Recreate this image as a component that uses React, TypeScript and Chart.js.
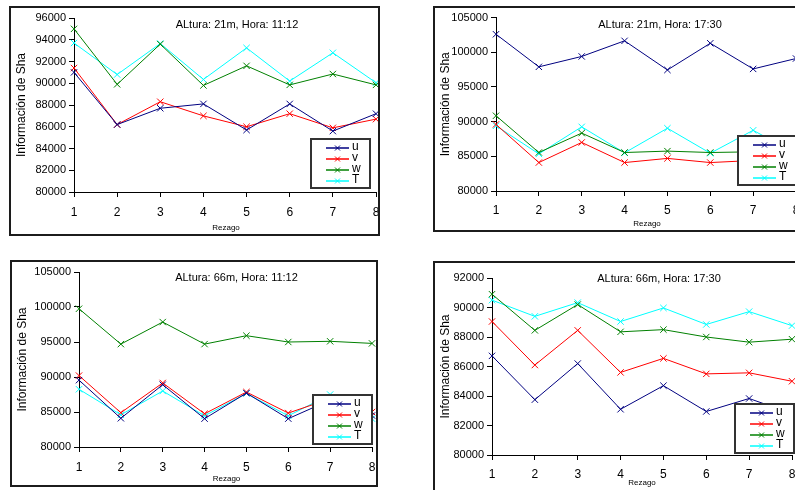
import React, { useEffect, useRef } from "react";
import { Chart, registerables } from "chart.js";

Chart.register(...registerables);

const FONT = "'Liberation Sans', Arial, Helvetica, sans-serif";

// Lags on the horizontal axis
const lags = ["1", "2", "3", "4", "5", "6", "7", "8"];
const seriesNames = ["u", "v", "w", "T"];
const seriesColors = ["#000080", "#FF0000", "#008000", "#00FFFF"];

// Altura 21 m, 11:12
const u21a = [91000, 86200, 87700, 88100, 85700, 88100, 85600, 87200];
const v21a = [91400, 86200, 88300, 87000, 86000, 87200, 85900, 86700];
const w21a = [95000, 89900, 93600, 89800, 91600, 89850, 90850, 89850];
const t21a = [93700, 90800, 93650, 90350, 93250, 90200, 92800, 90050];
const yTicks21a = [80000, 82000, 84000, 86000, 88000, 90000, 92000, 94000, 96000];

// Altura 21 m, 17:30
const u21b = [102600, 97900, 99400, 101650, 97450, 101300, 97600, 99100];
const v21b = [89600, 84100, 87000, 84100, 84700, 84100, 84400, 84300];
const w21b = [90850, 85550, 88350, 85550, 85750, 85550, 85650, 85500];
const t21b = [89400, 85350, 89250, 85500, 89050, 85450, 88750, 85400];
const yTicks21b = [80000, 85000, 90000, 95000, 100000, 105000];

// Altura 66 m, 11:12
const u66a = [89550, 84100, 88900, 84050, 87700, 84050, 86700, 84500];
const v66a = [90200, 84900, 89150, 84750, 87850, 84850, 86900, 85000];
const w66a = [99750, 94700, 97850, 94700, 95900, 95000, 95100, 94800];
const t66a = [88250, 84600, 88000, 84450, 87650, 84450, 87500, 84050];
const yTicks66a = [80000, 85000, 90000, 95000, 100000, 105000];

// Altura 66 m, 17:30
const u66b = [86720, 83750, 86200, 83100, 84700, 82950, 83830, 82800];
const v66b = [89050, 86100, 88450, 85600, 86550, 85500, 85570, 85000];
const w66b = [90900, 88450, 90200, 88350, 88500, 88000, 87650, 87850];
const t66b = [90500, 89400, 90330, 89050, 89970, 88850, 89720, 88770];
const yTicks66b = [80000, 82000, 84000, 86000, 88000, 90000, 92000];

type PanelSpec = {
  title: string;
  box: [number, number, number, number]; // frame: left, top, right, bottom
  area: [number, number, number, number]; // plot area: left, top, right, bottom
  yTicks: number[];
  series: number[][];
  titleDx: number;
  titleDy: number;
  xTitleDx: number;
  xTitleDy: number;
  legendDx: number;
  legendDy: number;
  tickPad: number;
};

const panels: PanelSpec[] = [
  {
    title: "ALtura: 21m, Hora: 11:12",
    box: [9, 6, 380, 236],
    area: [74, 18, 376, 192],
    yTicks: yTicks21a,
    series: [u21a, v21a, w21a, t21a],
    titleDx: 12, titleDy: 7, xTitleDx: 1, xTitleDy: 36,
    legendDx: -6, legendDy: -4, tickPad: 8,
  },
  {
    title: "ALtura: 21m, Hora: 17:30",
    box: [433, 6, 830, 232],
    area: [496, 17, 796, 191],
    yTicks: yTicks21b,
    series: [u21b, v21b, w21b, t21b],
    titleDx: 14, titleDy: 7, xTitleDx: 1, xTitleDy: 33,
    legendDx: 1, legendDy: -6, tickPad: 7,
  },
  {
    title: "ALtura: 66m, Hora: 11:12",
    box: [10, 260, 378, 487],
    area: [79, 272, 372, 447],
    yTicks: yTicks66a,
    series: [u66a, v66a, w66a, t66a],
    titleDx: 11, titleDy: 6, xTitleDx: 1, xTitleDy: 32,
    legendDx: 0, legendDy: -3, tickPad: 8,
  },
  {
    title: "ALtura: 66m, Hora: 17:30",
    box: [433, 261, 830, 510],
    area: [492, 278, 792, 455],
    yTicks: yTicks66b,
    series: [u66b, v66b, w66b, t66b],
    titleDx: 17, titleDy: 1, xTitleDx: 0, xTitleDy: 28,
    legendDx: 2, legendDy: -2, tickPad: 7,
  },
];

const BORDER = 2;
const RIGHT_PAD = 12;

function drawX(ctx: CanvasRenderingContext2D, x: number, y: number, r: number) {
  ctx.beginPath();
  ctx.moveTo(x - r, y - r);
  ctx.lineTo(x + r, y + r);
  ctx.moveTo(x - r, y + r);
  ctx.lineTo(x + r, y - r);
  ctx.stroke();
}

// Draws the in-plot caption, the small x-axis caption and the boxed legend
const decorPlugin = {
  id: "panelDecor",
  afterDraw(chart: any) {
    const opts = chart.options.plugins.panelDecor;
    const { ctx, chartArea: ca } = chart;
    const cx = (ca.left + ca.right) / 2;
    ctx.save();
    ctx.fillStyle = "#000";
    ctx.textBaseline = "middle";
    ctx.textAlign = "center";
    ctx.font = `11px ${FONT}`;
    ctx.fillText(opts.title, cx + opts.titleDx, ca.top + opts.titleDy);
    ctx.font = `8px ${FONT}`;
    ctx.fillText("Rezago", cx + opts.xTitleDx, ca.bottom + opts.xTitleDy);

    const w = 59;
    const h = 49;
    const right = Math.round(ca.right + opts.legendDx);
    const bottom = Math.round(ca.bottom + opts.legendDy);
    const left = right - w;
    const top = bottom - h;
    ctx.fillStyle = "#fff";
    ctx.fillRect(left, top, w, h);
    ctx.strokeStyle = "#333";
    ctx.lineWidth = 2;
    ctx.strokeRect(left, top, w, h);

    ctx.textAlign = "left";
    ctx.font = `12px ${FONT}`;
    chart.data.datasets.forEach((ds: any, i: number) => {
      const y = Math.round(top + 8.5 + i * 11.2);
      ctx.strokeStyle = ds.borderColor;
      ctx.lineWidth = 1.5;
      ctx.beginPath();
      ctx.moveTo(left + 15, y);
      ctx.lineTo(left + 38, y);
      ctx.stroke();
      ctx.lineWidth = 1;
      drawX(ctx, left + 26.5, y, 2.5);
      ctx.fillStyle = "#000";
      ctx.fillText(ds.label, left + 41, y - 1);
    });
    ctx.restore();
  },
};

function Panel({ spec }: { spec: PanelSpec }) {
  const ref = useRef<HTMLCanvasElement>(null);
  const [bl, bt, br, bb] = spec.box;
  const [al, at, ar, ab] = spec.area;
  const cx0 = bl + BORDER;
  const cy0 = bt + BORDER;
  const cw = ar - cx0 + RIGHT_PAD;
  const ch = bb - BORDER - cy0;

  useEffect(() => {
    if (!ref.current) return;
    const yMin = spec.yTicks[0];
    const yMax = spec.yTicks[spec.yTicks.length - 1];
    const step = spec.yTicks[1] - spec.yTicks[0];
    const chart = new Chart(ref.current, {
      type: "line",
      data: {
        labels: lags,
        datasets: spec.series.map((vals, i) => ({
          label: seriesNames[i],
          data: vals,
          borderColor: seriesColors[i],
          backgroundColor: seriesColors[i],
          borderWidth: 1,
          pointStyle: "crossRot",
          pointRadius: 4.5,
          pointBorderWidth: 1,
          pointBorderColor: seriesColors[i],
          tension: 0,
          fill: false,
          clip: false,
        })),
      },
      options: {
        responsive: false,
        animation: false,
        devicePixelRatio: 1,
        events: [],
        layout: {
          padding: { left: 0, top: at - cy0, right: RIGHT_PAD, bottom: 0 },
        },
        plugins: {
          legend: { display: false },
          tooltip: { enabled: false },
          panelDecor: {
            title: spec.title,
            titleDx: spec.titleDx,
            titleDy: spec.titleDy,
            xTitleDx: spec.xTitleDx,
            xTitleDy: spec.xTitleDy,
            legendDx: spec.legendDx,
            legendDy: spec.legendDy,
          },
        } as any,
        scales: {
          x: {
            type: "category",
            offset: false,
            grid: {
              display: true,
              drawOnChartArea: false,
              drawTicks: true,
              tickLength: 5,
              color: "#000",
            },
            border: { display: true, color: "#000", width: 1 },
            ticks: {
              color: "#000",
              font: { family: FONT, size: 12 },
              padding: spec.tickPad,
              maxRotation: 0,
              autoSkip: false,
            },
            afterFit: (scale: any) => {
              scale.height = ch - (ab - cy0);
            },
          },
          y: {
            type: "linear",
            min: yMin,
            max: yMax,
            grid: {
              display: true,
              drawOnChartArea: false,
              drawTicks: true,
              tickLength: 5,
              color: "#000",
            },
            border: { display: true, color: "#000", width: 1 },
            ticks: {
              stepSize: step,
              color: "#000",
              font: { family: FONT, size: 11 },
              padding: 3,
              callback: (v: any) => String(v),
            },
            title: {
              display: true,
              text: "Información de Sha",
              color: "#000",
              font: { family: FONT, size: 12 },
              padding: { top: 3, bottom: 0 },
            },
            afterFit: (scale: any) => {
              scale.width = al - cx0;
            },
          },
        },
      },
      plugins: [decorPlugin],
    });
    return () => chart.destroy();
  }, []);

  return (
    <div
      style={{
        position: "absolute",
        left: bl,
        top: bt,
        width: br - bl - 2 * BORDER,
        height: bb - bt - 2 * BORDER,
        border: `${BORDER}px solid #1c1c1c`,
        overflow: "hidden",
        background: "#fff",
      }}
    >
      <canvas
        ref={ref}
        width={cw}
        height={ch}
        style={{ display: "block", width: cw, height: ch }}
      />
    </div>
  );
}

export default function App() {
  return (
    <div
      style={{
        position: "fixed",
        left: 0,
        top: 0,
        width: 795,
        height: 490,
        overflow: "hidden",
        background: "#fff",
      }}
    >
      {panels.map((p, i) => (
        <Panel key={i} spec={p} />
      ))}
    </div>
  );
}
